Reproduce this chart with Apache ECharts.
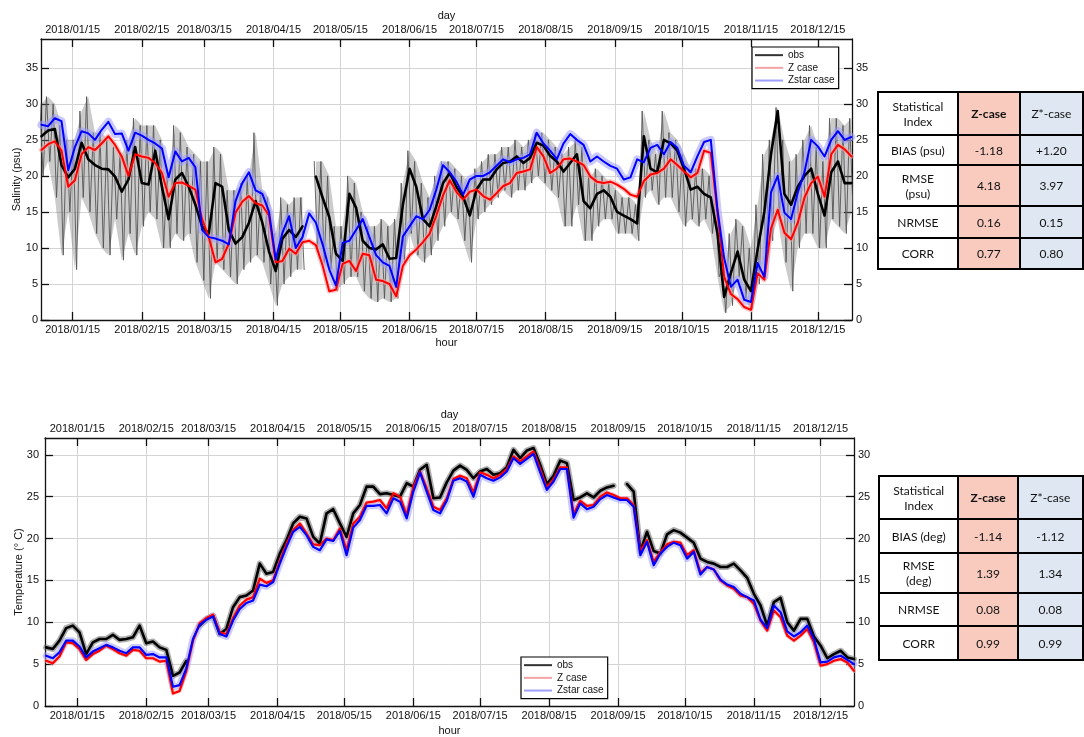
<!DOCTYPE html>
<html><head><meta charset="utf-8">
<script src="https://cdn.jsdelivr.net/npm/echarts@6/dist/echarts.min.js"></script>
<style>
html,body{margin:0;padding:0;background:#fff;}
#chart{position:absolute;left:0;top:0;width:1084px;height:737px;}
table.stat{position:absolute;border-collapse:collapse;table-layout:fixed;font-family:Lato,'Open Sans',sans-serif;font-size:12px;color:#111;}
table.stat td{border:2px solid #000;text-align:center;vertical-align:middle;padding:0;line-height:15px;}
table.stat td.z{background:#f8cbbe;}
table.stat td.zs{background:#dee7f2;}
table.stat td.b{font-weight:bold;}
</style></head>
<body>
<div id="chart"></div>
<script>
// ---------- data ----------
const days = [0,3,6,9,12,15,18,21,24,27,
 30,33,36,39,42,45,48,51,54,57,
 60,63,66,69,72,75,78,81,84,87,
 90,93,96,99,102,105,108,111,114,117,
 120,123,126,129,132,135,138,141,144,147,
 150,153,156,159,162,165,168,171,174,177,
 180,183,186,189,192,195,198,201,204,207,
 210,213,216,219,222,225,228,231,234,237,
 240,243,246,249,252,255,258,261,264,267,
 270,273,276,279,282,285,288,291,294,297,
 300,303,306,309,312,315,318,321,324,327,
 330,333,336,339,342,345,348,351,354,357,
 360,363];

const tickDays = [14,45,73,104,134,165,195,226,257,287,318,348];
const tickLabels = ['2018/01/15','2018/02/15','2018/03/15','2018/04/15','2018/05/15','2018/06/15',
 '2018/07/15','2018/08/15','2018/09/15','2018/10/15','2018/11/15','2018/12/15'];
const salTicks = [0,5,10,15,20,25,30,35];
const tempTicks = [0,5,10,15,20,25,30];

// Salinity (psu)
const salObs = [25.5,26.3,26.5,21.5,19.8,21.0,24.6,22.3,21.5,21.0,
 20.9,19.9,17.8,19.5,24.0,19.0,18.8,23.5,18.5,14.0,
 19.5,20.4,18.5,16.0,13.0,12.0,19.0,18.5,12.5,10.6,
 11.5,13.5,16.5,13.5,9.5,6.8,11.3,12.5,11.5,13.0,
 null,19.9,17.0,14.3,9.2,8.2,17.5,15.6,11.0,10.0,
 9.8,10.5,8.5,8.6,16.0,21.0,18.5,14.0,13.0,15.8,
 19.0,20.4,18.5,17.1,14.5,18.1,19.5,19.5,20.9,21.8,
 22.0,22.7,21.8,22.5,24.6,24.2,22.8,22.0,20.6,21.8,
 23.0,16.5,15.5,17.5,18.0,17.1,15.0,14.5,14.0,13.4,
 25.5,21.0,20.5,25.0,24.5,23.5,21.0,18.1,18.5,17.5,
 17.0,12.0,3.2,6.5,9.5,5.6,4.0,9.8,15.0,23.0,
 29.0,17.5,16.0,18.5,20.0,21.0,17.5,14.5,20.5,22.0,
 19.0,19.0];
const salObsHourlyHi = [30,31,30,27,25,25,29,31,26,26,
 25,24,23,25,28,27,27,27,25,20,
 27,26,24,23,22,22,24,23,18,18,
 19,20,26,18,17,12,17,16,17,17,
 null,22,22,20,13,13,20,19,15,13,
 13,14,13,14,19,23.5,22,19,17,20,
 22,22,21,20,19,21,22,23,23,24,
 24,25,24,25,26,26,25,24,23,24,
 25,24,20,21,20,19,18,17,17,16,
 29,25,23,29,26,25,23,21,21,21,
 20,17,7,12,14,13,10,16,23,25,
 29.5,25,22,23,25,27,24,22,28,28,
 27,28];
const salObsHourlyLo = [20,22,17,9,15,7,17,15,12,10,
 9,14,8.3,12,9,13,15,14,10,10,
 12,11,12,8,5.5,3,8,7,6,5,
 7,8,9,8,5,2,5,6,7,7,
 null,10,8,7,4,5,6,6,4,3,
 2.5,3,2.5,3,8,12,9,8,9,11,
 13,15,14,11,8,14,15,16,17,18,
 17,18,18,19,20,19,18,17,13,13,
 16,11,11,13,14,14,12,12,12,11,
 17,18,16,17,17,15,13,14,13,14,
 12,6,1,2,6,3,1.5,5,8,11,
 14,8,4,10,12,12,10,10,14,13,
 12,15];
const salZ = [23.6,24.4,24.8,23.5,18.5,19.4,23.0,24.0,23.6,24.5,
 25.5,24.3,22.7,20.0,23.0,22.7,22.5,21.8,20.4,17.1,
 19.0,19.1,18.6,18.1,14.0,11.5,8.0,8.5,10.6,14.9,
 16.4,17.2,16.2,15.9,14.5,8.0,8.2,9.9,9.2,10.8,
 11.0,10.4,7.6,4.0,4.2,7.8,8.2,6.8,9.2,9.0,
 5.6,5.4,5.0,3.3,7.5,9.0,9.8,10.8,12.0,14.5,
 17.3,19.4,17.8,16.7,17.8,18.1,17.2,16.7,17.6,18.6,
 19.0,20.4,20.6,20.9,24.0,22.7,20.4,21.0,22.3,22.4,
 22.0,21.5,19.9,19.2,19.0,19.2,18.8,18.2,17.4,17.1,
 19.3,20.2,20.4,21.0,22.3,21.5,20.6,19.8,20.4,23.5,
 23.2,15.0,6.0,3.6,2.9,1.8,1.4,6.5,5.6,12.7,
 15.3,12.1,11.2,13.5,17.0,19.0,19.9,17.1,23.0,24.3,
 23.7,22.7];
const salZstar = [27.1,26.9,28.0,27.6,20.8,24.0,26.2,25.9,25.0,26.4,
 27.5,25.8,25.9,23.5,26.0,25.6,25.0,24.5,23.8,19.8,
 23.4,22.0,22.5,21.2,12.5,11.5,11.3,11.0,10.5,16.5,
 19.0,20.5,18.0,17.5,15.0,8.4,12.1,14.4,10.0,11.5,
 14.8,13.5,10.5,7.0,4.8,10.7,11.0,12.5,14.0,11.5,
 9.0,8.0,7.5,4.6,11.6,13.0,14.4,14.0,15.3,18.1,
 21.5,20.5,19.2,17.4,19.5,20.0,20.0,20.5,21.4,22.3,
 21.9,22.3,22.5,23.0,26.0,24.5,23.5,22.3,24.5,25.8,
 25.0,24.3,22.0,22.7,22.0,21.4,21.0,19.5,19.8,22.3,
 21.9,23.9,24.3,23.0,24.7,23.9,21.4,20.5,22.7,24.7,
 25.0,15.3,8.6,4.6,5.6,2.8,2.5,7.9,6.0,17.7,
 20.0,14.9,14.0,17.7,20.5,25.0,24.1,22.7,25.0,26.2,
 25.0,25.4];

// Temperature (deg C)
const tempObs = [7.0,6.8,7.8,9.3,9.6,8.8,6.2,7.6,8.0,8.0,
 8.5,7.9,8.0,8.2,9.6,7.5,7.7,7.0,6.7,3.6,
 4.0,5.4,null,9.6,10.4,10.8,8.6,9.2,11.8,13.0,
 13.2,13.8,17.0,15.8,16.0,18.2,19.8,21.8,22.6,22.4,
 20.2,19.4,23.0,23.5,21.8,20.2,23.0,24.0,26.2,26.2,
 25.3,25.4,25.2,25.0,26.6,26.2,28.2,28.8,24.8,24.9,
 26.7,28.1,28.7,28.2,27.2,28.0,28.3,27.6,27.8,28.5,
 30.6,29.6,30.5,30.8,28.8,26.5,27.5,29.3,29.0,24.6,
 24.9,25.4,24.9,25.7,26.1,26.3,null,26.5,25.6,18.5,
 20.8,18.5,18.2,20.5,21.0,20.7,20.1,19.5,17.6,17.2,
 17.0,16.6,16.6,17.0,16.2,15.3,13.4,12.0,9.6,12.4,
 12.9,10.0,9.0,10.4,10.4,8.3,7.2,5.7,6.2,6.6,
 5.8,5.6];
const tempZ = [5.4,5.1,5.9,7.6,7.5,6.8,5.5,6.2,6.6,7.2,
 6.8,6.3,6.0,6.7,6.6,5.7,5.7,5.3,5.4,1.5,
 1.8,4.2,7.8,9.9,10.5,10.9,8.8,8.6,10.5,12.0,
 12.7,13.0,15.2,14.7,15.0,17.3,19.4,21.0,21.8,20.6,
 19.3,19.2,20.0,19.8,21.2,18.6,21.8,22.6,24.3,24.4,
 24.6,23.6,25.4,25.0,22.8,26.2,28.0,26.0,23.8,23.4,
 24.8,27.1,27.5,27.2,25.5,27.9,27.6,27.2,27.6,28.3,
 29.8,29.2,29.8,30.4,28.3,26.1,27.1,28.5,28.5,22.9,
 24.5,23.9,24.0,25.0,25.5,25.2,24.8,24.8,24.0,18.5,
 19.8,17.2,18.4,19.3,19.6,19.5,18.0,18.6,15.9,16.6,
 16.3,15.0,14.4,14.0,13.2,13.0,12.2,10.2,9.0,11.4,
 10.6,8.4,7.8,8.4,9.2,7.6,4.8,5.0,5.4,5.6,
 5.2,4.2];
const tempZstar = [6.0,5.7,6.4,7.8,7.8,7.1,5.8,6.5,6.9,7.3,
 7.0,6.6,6.3,7.0,7.0,6.1,6.2,5.8,5.8,2.3,
 2.5,4.5,8.0,9.7,10.3,10.7,8.6,8.3,10.2,11.6,
 12.3,12.6,14.5,14.3,14.8,17.0,19.0,20.8,21.4,20.4,
 19.0,18.6,19.9,19.7,20.9,18.0,21.3,22.2,23.9,23.9,
 24.0,23.0,24.8,24.4,22.4,25.6,27.9,25.6,23.4,23.0,
 24.5,26.9,27.2,26.8,25.0,27.6,27.2,26.9,27.3,28.0,
 29.6,28.9,29.5,30.1,27.9,25.8,26.8,28.3,28.3,22.5,
 24.2,23.5,23.8,24.7,25.2,24.9,24.6,24.6,23.8,18.0,
 19.6,16.8,18.2,19.0,19.5,19.2,17.6,18.4,15.7,16.6,
 16.3,15.1,14.5,14.2,13.4,13.0,12.6,10.3,9.3,12.0,
 11.2,8.9,8.3,8.8,9.6,8.0,5.2,5.3,5.8,6.0,
 5.5,5.0];

// Statistics tables
const statHeader = ['Statistical<br>Index','Z-case','Z*-case'];
const salStats = [['BIAS (psu)','-1.18','+1.20'],['RMSE<br>(psu)','4.18','3.97'],['NRMSE','0.16','0.15'],['CORR','0.77','0.80']];
const tempStats = [['BIAS (deg)','-1.14','-1.12'],['RMSE<br>(deg)','1.39','1.34'],['NRMSE','0.08','0.08'],['CORR','0.99','0.99']];

// ---------- tables ----------
function buildTable(rows, left, top, colW, rowH){
  const t = document.createElement('table');
  t.className = 'stat';
  t.style.left = left + 'px'; t.style.top = top + 'px';
  let html = '<colgroup>' + colW.map(w => '<col style="width:' + w + 'px">').join('') + '</colgroup>';
  const all = [statHeader].concat(rows);
  all.forEach((r, i) => {
    html += '<tr style="height:' + rowH[i] + 'px">';
    html += '<td>' + r[0] + '</td>';
    html += '<td class="z' + (i === 0 ? ' b' : '') + '">' + r[1] + '</td>';
    html += '<td class="zs">' + r[2] + '</td>';
    html += '</tr>';
  });
  t.innerHTML = html;
  document.body.appendChild(t);
}
buildTable(salStats, 877, 91, [84, 67, 68], [43, 30, 41, 32, 31]);
buildTable(tempStats, 878, 475, [83, 63, 70], [43, 34, 40, 33, 34]);

// ---------- chart ----------
const FONT = "'Liberation Sans', Arial, Helvetica, sans-serif";
function pairs(vals){ return days.map((d, i) => [d, vals[i] == null ? '-' : vals[i]]); }
function spikes(hi, lo){
  const out = [];
  days.forEach((d, i) => {
    out.push([d - 0.75, hi[i] == null ? '-' : hi[i]]);
    out.push([d + 0.75, lo[i] == null ? '-' : lo[i]]);
  });
  return out;
}
function line(name, data, xi, yi, color, width, opacity){
  return {type:'line', name, data, xAxisIndex:xi, yAxisIndex:yi, showSymbol:false, symbol:'none',
    silent:true, animation:false, lineStyle:{color, width, opacity, cap:'round', join:'round'},
    itemStyle:{color}, emphasis:{disabled:true}};
}
// light band of hourly observation range (drawn through the axes' scales)
function band(hi, lo, xi, yi, color, opacity){
  return {type:'custom', name:'obs', xAxisIndex:xi, yAxisIndex:yi, silent:true, animation:false,
    data:[0],
    renderItem:function(params, api){
      const children = [];
      let seg = [];
      const flush = () => {
        if (seg.length > 1) {
          const top = seg.map(i => api.coord([days[i], hi[i]]));
          const bot = seg.slice().reverse().map(i => api.coord([days[i], lo[i]]));
          children.push({type:'polygon', shape:{points: top.concat(bot)},
            style:{fill: color, opacity}});
        }
        seg = [];
      };
      days.forEach((d, i) => { if (hi[i] == null || lo[i] == null) flush(); else seg.push(i); });
      flush();
      return {type:'group', children};
    }};
}
function xAx(grid, pos, name, gap, min, max, split){
  return {type:'value', gridIndex:grid, position:pos, min, max,
    name, nameLocation:'middle', nameGap:gap, nameMoveOverlap:false,
    nameTextStyle:{fontSize:11, color:'#111', fontFamily:FONT},
    axisLine:{show:true, onZero:false, lineStyle:{color:'#111', width:1.3}},
    axisTick:{show:true, inside:true, length:8, customValues:tickDays, lineStyle:{color:'#111', width:1.3}},
    axisLabel:{show:true, customValues:tickDays, margin:4, fontSize:11, color:'#111', fontFamily:FONT,
      formatter: v => tickLabels[tickDays.indexOf(v)] || ''},
    splitLine:{show:split, lineStyle:{color:'#d4d4d4', width:1}}};
}
function yAx(grid, pos, name, gap, max, ticks, margin, split){
  return {type:'value', gridIndex:grid, position:pos, min:0, max, interval:5,
    name, nameLocation:'middle', nameGap:gap, nameRotate:90, nameMoveOverlap:false,
    nameTextStyle:{fontSize:11, color:'#111', fontFamily:FONT},
    axisLine:{show:true, onZero:false, lineStyle:{color:'#111', width:1.3}},
    axisTick:{show:true, inside:true, length:8, customValues:ticks, lineStyle:{color:'#111', width:1.3}},
    axisLabel:{show:true, customValues:ticks, margin, fontSize:11, color:'#111', fontFamily:FONT},
    splitLine:{show:split, lineStyle:{color:'#d4d4d4', width:1}}};
}
const legendItems = [
  {name:'obs', itemStyle:{color:'#333'}},
  {name:'Z case', itemStyle:{color:'#f3a3a3'}},
  {name:'Zstar case', itemStyle:{color:'#9f9fff'}}
];
function legend(left, top){
  return {left, top, orient:'vertical', icon:'rect', itemWidth:28, itemHeight:2, itemGap:0.4,
    itemTextGap:4, padding:[2,4,2,3], selectedMode:false,
    backgroundColor:'#fff', borderColor:'#000', borderWidth:1.2,
    textStyle:{fontSize:10, fontFamily:FONT, color:'#111', lineHeight:12.3},
    data:legendItems};
}

const chart = echarts.init(document.getElementById('chart'), null, {renderer:'canvas'});
chart.setOption({
  animation:false,
  backgroundColor:'#fff',
  grid:[
    {left:41, top:39, width:811, height:281, show:false},
    {left:45, top:438, width:809, height:268, show:false}
  ],
  xAxis:[
    xAx(0, 'bottom', 'hour', 17, -0.2, 363.3, true),
    xAx(0, 'top', 'day', 18, -0.2, 363.3, false),
    xAx(1, 'bottom', 'hour', 19, -0.5, 363.0, true),
    xAx(1, 'top', 'day', 18, -0.5, 363.0, false)
  ],
  yAxis:[
    yAx(0, 'left', 'Salinity (psu)', 19, 39, salTicks, 3, true),
    yAx(0, 'right', '', 0, 39, salTicks, 4, false),
    yAx(1, 'left', 'Temperature (° C)', 21, 32, tempTicks, 6, true),
    yAx(1, 'right', '', 0, 32, tempTicks, 4, false)
  ],
  legend:[legend(752, 47), legend(521, 657)],
  series:[
    band(salObsHourlyHi, salObsHourlyLo, 0, 0, '#6e6e6e', 0.36),
    line('obs', spikes(salObsHourlyHi, salObsHourlyLo), 0, 0, '#555', 1, 0.9),
    line('Zstar case', pairs(salZstar), 0, 0, '#9c9cff', 8, 0.55),
    line('Z case', pairs(salZ), 0, 0, '#f4a0a0', 5, 0.6),
    line('obs', pairs(salObs), 0, 0, '#000', 2.6, 1),
    line('Z case', pairs(salZ), 0, 0, '#ff0000', 2, 1),
    line('Zstar case', pairs(salZstar), 0, 0, '#0000ff', 2, 1),

    line('obs', pairs(tempObs), 2, 2, '#6a6a6a', 6, 0.55),
    line('Zstar case', pairs(tempZstar), 2, 2, '#a0a0ff', 7, 0.55),
    line('Z case', pairs(tempZ), 2, 2, '#f4a0a0', 4, 0.6),
    line('obs', pairs(tempObs), 2, 2, '#000', 2.6, 1),
    line('Z case', pairs(tempZ), 2, 2, '#ff0000', 2.2, 1),
    line('Zstar case', pairs(tempZstar), 2, 2, '#0000ff', 2.2, 1)
  ]
});
</script>
</body></html>
